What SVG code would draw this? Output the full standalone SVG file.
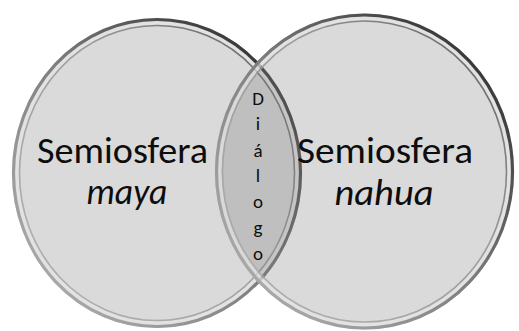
<svg xmlns="http://www.w3.org/2000/svg" width="519" height="331" viewBox="0 0 519 331">
  <defs>
    <linearGradient id="rimL" x1="0" y1="1" x2="1" y2="0">
      <stop offset="0" stop-color="#b8b8b8"/>
      <stop offset="0.5" stop-color="#7e7e7e"/>
      <stop offset="1" stop-color="#1e1e1e"/>
    </linearGradient>
    <linearGradient id="innerL" x1="0" y1="1" x2="1" y2="0">
      <stop offset="0" stop-color="#b0b0b0"/>
      <stop offset="0.6" stop-color="#959595"/>
      <stop offset="1" stop-color="#4a4a4a"/>
    </linearGradient>
    <filter id="soft" x="-5%" y="-5%" width="110%" height="110%">
      <feGaussianBlur stdDeviation="0.6"/>
    </filter>
    <style>
      .fill { fill: #808080; fill-opacity: 0.29; }
      .rim { fill: none; stroke: url(#rimL); stroke-width: 3.2; }
      .band { fill: none; stroke: #e6e6e6; stroke-width: 4; stroke-opacity: 0.65; }
      .inner { fill: none; stroke: url(#innerL); stroke-width: 1.6; stroke-opacity: 0.9; }
      .big { font-family: Carlito, Calibri, Lato, "Open Sans", sans-serif; font-size: 36px; fill: #0d0d0d; text-anchor: middle; }
      .it { font-style: italic; }
      .dlg { font-family: Carlito, Calibri, Lato, "Open Sans", sans-serif; font-size: 19px; fill: #0d0d0d; text-anchor: middle; }
    </style>
  </defs>
  <rect width="519" height="331" fill="#ffffff"/>

  <g id="maya">
    <ellipse class="fill" cx="157" cy="173" rx="145" ry="155"/>
    <g filter="url(#soft)">
      <ellipse class="band" cx="157" cy="173" rx="140.5" ry="150.5"/>
      <ellipse class="inner" cx="157" cy="173" rx="137.5" ry="147.5"/>
      <ellipse class="rim" cx="157" cy="173" rx="143.5" ry="153.5"/>
    </g>
    <text class="big" x="122.5" y="163" textLength="171" lengthAdjust="spacingAndGlyphs">Semiosfera</text>
    <text class="big it" x="127" y="204" textLength="81" lengthAdjust="spacingAndGlyphs">maya</text>
  </g>

  <g id="nahua">
    <ellipse class="fill" cx="364.5" cy="171.5" rx="149.5" ry="158"/>
    <g filter="url(#soft)">
      <ellipse class="band" cx="364.5" cy="171.5" rx="145" ry="153.5"/>
      <ellipse class="inner" cx="364.5" cy="171.5" rx="142" ry="150.5"/>
      <ellipse class="rim" cx="364.5" cy="171.5" rx="148" ry="156.5"/>
    </g>
    <text class="big" x="385" y="163" textLength="176" lengthAdjust="spacingAndGlyphs">Semiosfera</text>
    <text class="big it" x="384" y="205" textLength="99" lengthAdjust="spacingAndGlyphs">nahua</text>
  </g>

  <g id="dialogo">
    <text class="dlg" x="258" y="105">D</text>
    <text class="dlg" x="258" y="130">i</text>
    <text class="dlg" x="258" y="157">á</text>
    <text class="dlg" x="258" y="182">l</text>
    <text class="dlg" x="258" y="208">o</text>
    <text class="dlg" x="258" y="234">g</text>
    <text class="dlg" x="258" y="260">o</text>
  </g>

  <g id="connectors"/>
</svg>
